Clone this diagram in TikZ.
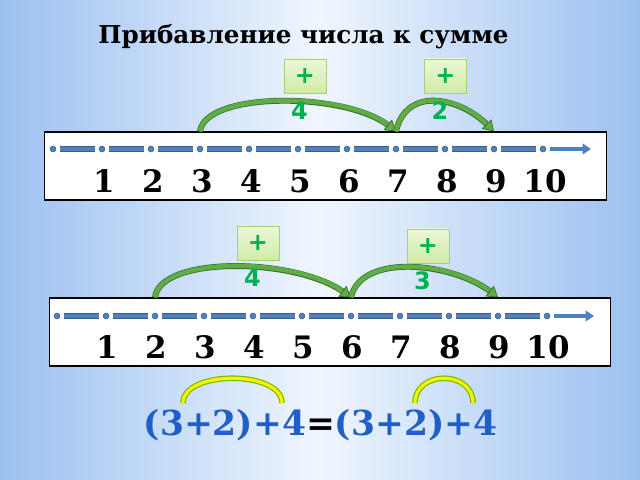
\documentclass[tikz,border=0pt]{standalone}
\usepackage{fontspec}
\setmainfont{DejaVu Serif}
\newfontfamily\labfont{DejaVu Sans}
\usetikzlibrary{positioning,arrows.meta}
\definecolor{bgblue}{RGB}{155,192,240}
\definecolor{bgmid}{RGB}{240,246,254}
\definecolor{lineblue}{RGB}{79,129,189}
\definecolor{linedark}{RGB}{56,93,138}
\definecolor{labgreen}{RGB}{0,176,80}
\definecolor{boxtop}{RGB}{236,247,214}
\definecolor{boxbot}{RGB}{208,235,168}
\definecolor{boxedge}{RGB}{169,207,126}
\definecolor{arcgreen}{RGB}{96,172,70}
\definecolor{arcdark}{RGB}{50,110,40}
\definecolor{fblue}{RGB}{30,95,200}
\definecolor{arcedge}{RGB}{120,190,0}
\begin{document}
\begin{tikzpicture}[x=0.025cm,y=-0.025cm,
	dot/.style={circle, draw=linedark, fill=lineblue, inner sep=0pt, minimum size=4.2pt},
	bar/.style={draw=lineblue, line width=3.2pt, shorten <=3pt, shorten >=3pt, preaction={draw=linedark, line width=4pt}},
	endbar/.style={draw=lineblue, line width=3.4pt, shorten <=3pt, -{Triangle[length=6pt,width=7.5pt]}},
	num/.style={anchor=base, font=\bfseries\fontsize{22}{22}\selectfont},
	nbox/.style={draw, line width=0.8pt, fill=white, minimum height=1.7cm},
	jump/.style={draw=arcgreen, line width=3.2pt, -{Triangle[length=7.5pt,width=9.5pt,fill=arcgreen,color=arcdark,line width=0.5pt]}, preaction={draw=arcdark, line width=4.2pt, -, shorten >=6pt}},
	plusbox/.style={draw=boxedge, top color=boxtop, bottom color=boxbot, minimum width=1.05cm, minimum height=0.85cm, inner sep=0pt, text=labgreen, font=\labfont\bfseries\fontsize{17}{17}\selectfont},
	pluslab/.style={inner sep=0pt, text=labgreen, font=\labfont\bfseries\fontsize{17}{17}\selectfont},
	formula/.style={anchor=base, font=\bfseries\fontsize{24.5}{24.5}\selectfont},
	brace/.style={draw=arcedge, double=yellow, double distance=2.2pt, line width=0.9pt}]
	\fill[left color=bgblue, right color=bgblue, middle color=bgmid] (0,0) rectangle (640,480);
	\useasboundingbox (0,0) rectangle (640,480);

	\node[anchor=base, font=\bfseries\fontsize{17.5}{17.5}\selectfont] (title) at (303.5,43) {Прибавление числа к сумме};

	\node[nbox, minimum width=14.025cm] (box1) at (325.5,166) {};
	\foreach \i in {0,...,10}
		\node[dot] (a\i) at ({53+49*\i},149) {};
	\foreach \i [evaluate=\i as \j using int(\i+1)] in {0,...,9}
		\draw[bar] (a\i) -- (a\j);
	\coordinate (ea) at (591,149);
	\draw[endbar] (a10) -- (ea);
	\foreach \i in {1,...,10}
		\node[num] (na\i) at ({55+49*\i},192) {\i};

	\draw[jump] (a3 |- box1.north) .. controls +(5,-40) and +(-50,-40) .. (a7 |- box1.north);
	\draw[jump] (a7 |- box1.north) .. controls +(10,-45) and +(-35,-35) .. (a9 |- box1.north);
	\node[plusbox] (p1) at (305,76) {+};
	\node[pluslab, below=6pt of p1, xshift=-4pt] (q1) {4};
	\node[plusbox] (p2) at (445.5,76) {+};
	\node[pluslab, below=6pt of p2, xshift=-4pt] (q2) {2};

	\node[nbox, minimum width=14cm] (box2) at (330,332) {};
	\foreach \i in {0,...,10}
		\node[dot] (b\i) at ({57+49*\i},316) {};
	\foreach \i [evaluate=\i as \j using int(\i+1)] in {0,...,9}
		\draw[bar] (b\i) -- (b\j);
	\coordinate (eb) at (594,316);
	\draw[endbar] (b10) -- (eb);
	\foreach \i in {1,...,10}
		\node[num] (nb\i) at ({58+49*\i},358) {\i};

	\draw[jump] (b2 |- box2.north) .. controls +(5,-42) and +(-55,-40) .. (b6 |- box2.north);
	\draw[jump] (b6 |- box2.north) .. controls +(10,-45) and +(-45,-35) .. (b9 |- box2.north);
	\node[plusbox] (p3) at (258,243.5) {+};
	\node[pluslab, below=6pt of p3, xshift=-4pt] (q3) {4};
	\node[plusbox] (p4) at (428,246) {+};
	\node[pluslab, below=6pt of p4, xshift=-4pt] (q4) {3};

	\node[formula] (f) at (320.5,435) {\textcolor{fblue}{(3+2)+4}=\textcolor{fblue}{(3+2)+4}};
	\draw[brace] (183,403) .. controls (183,370) and (282,370) .. (282,403);
	\draw[brace] (415,403) .. controls (415,370) and (473,370) .. (473,403);
\end{tikzpicture}
\end{document}
